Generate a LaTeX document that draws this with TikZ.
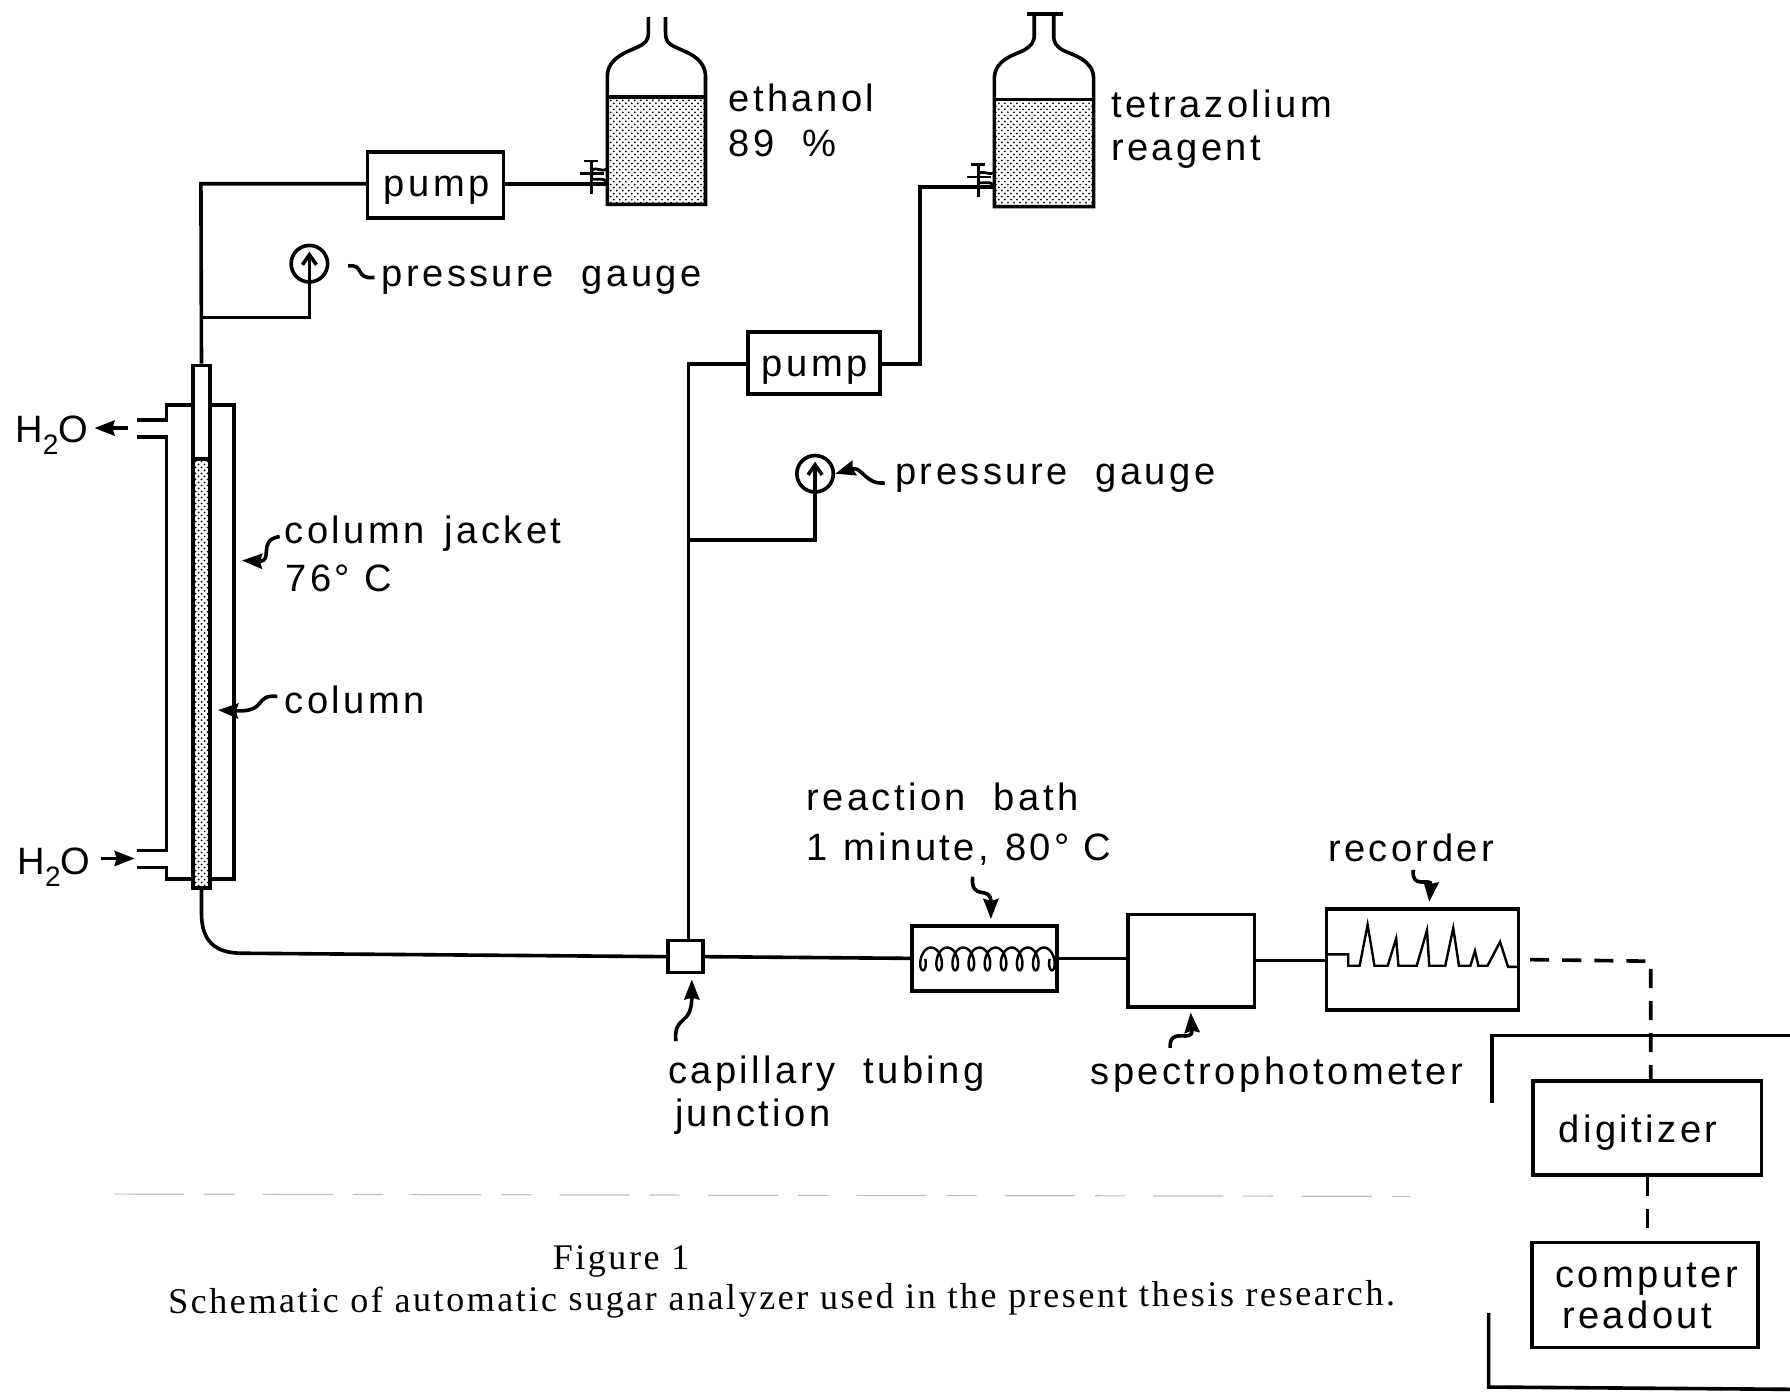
\documentclass[tikz,border=0pt]{standalone}
\usepackage{fontspec}
\usepackage{tikz}
\usetikzlibrary{arrows.meta,patterns}
\newfontfamily\letterfont[LetterSpace=9]{Liberation Sans}
\newfontfamily\captionfont[LetterSpace=7]{Liberation Serif}
\newcommand{\water}{H\raisebox{-6pt}{\fontsize{14}{14}\selectfont 2}O}
\newcommand{\wgap}{\hspace{14pt}}
\tikzset{
    pipe/.style={line width=1.8pt},
    devbox/.style={draw,line width=1.8pt,inner sep=0pt},
    gauge/.style={draw,circle,line width=1.8pt,minimum size=0.64cm,inner sep=0pt},
    lbl/.style={inner sep=0pt,anchor=base west,font=\letterfont\fontsize{19}{22}\selectfont},
    capt/.style={inner sep=0pt,font=\captionfont\fontsize{18}{20}\selectfont},
    lead/.style={line width=1.8pt,-{Stealth[length=10pt,width=7.5pt,inset=1pt]}},
    dashline/.style={line width=1.8pt,dash pattern=on 9.5pt off 6.5pt},
    liquid/.style={pattern=crosshatch dots},
    tap/.pic={
        \draw[line width=1.4pt] (-14,-22) -- (-14,7);
        \draw[line width=1.4pt] (-20,-22) -- (-8,-22);
        \draw[line width=1.4pt] (-24,-11) -- (-3,-11);
        \draw[line width=1.4pt] (-14,-14) .. controls (-8,-17) and (-6,-12) .. (0,-15);
        \draw[line width=1.4pt] (-14,-6) -- (-5,-6) .. controls (-2,-6) and (0,-3) .. (0,0);
    }
}
\begin{document}
\begin{tikzpicture}[x=0.02cm,y=-0.02cm]
    \useasboundingbox (0,0) rectangle (1568,1218.5);

    \fill[liquid] (532,85) rectangle (618,179);
    \draw[pipe] (532,85) -- (618,85);
    \draw[pipe] (568,15) -- (568,28) .. controls (568,36) and (565,38) .. (559,41) .. controls (551,45) and (532,50) .. (532,67) -- (532,179) -- (618,179) -- (618,67) .. controls (618,50) and (599,45) .. (591,41) .. controls (585,38) and (583,36) .. (583,28) -- (583,15);
    \pic at (532,163) {tap};

    \fill[liquid] (871,87) rectangle (958,181);
    \draw[pipe] (871,87) -- (958,87);
    \draw[pipe] (906,12) -- (906,30) .. controls (906,38) and (903,40) .. (897,44) .. controls (889,48) and (871,52) .. (871,69) -- (871,181) -- (958,181) -- (958,69) .. controls (958,52) and (939,48) .. (931,44) .. controls (925,40) and (923,38) .. (923,30) -- (923,12);
    \draw[pipe] (900,12) -- (931,12);
    \pic at (871,166) {tap};

    \node[devbox,minimum width=2.38cm,minimum height=1.16cm] (pumpa) at (381.5,162) {};
    \node[devbox,minimum width=2.32cm,minimum height=1.08cm] (pumpb) at (713,318) {};
    \node[gauge] (gaugea) at (271,231) {};
    \node[gauge] (gaugeb) at (714,415) {};
    \node[devbox,minimum width=0.3cm,minimum height=9.16cm] (column) at (176.5,549) {};
    \node[devbox,minimum width=0.62cm,minimum height=0.56cm] (junction) at (600.5,838) {};
    \node[devbox,minimum width=2.54cm,minimum height=1.14cm] (bath) at (862.5,839.5) {};
    \node[devbox,minimum width=2.22cm,minimum height=1.62cm] (spectro) at (1043.5,841.5) {};
    \node[devbox,minimum width=3.36cm,minimum height=1.78cm] (recorder) at (1246,840.5) {};
    \node[devbox,minimum width=4cm,minimum height=1.64cm] (digitizer) at (1443,988) {};
    \node[devbox,minimum width=3.96cm,minimum height=1.84cm] (readout) at (1441,1134.5) {};

    \fill[liquid] (169,402) rectangle (184,778);
    \draw[pipe] (169,402) -- (184,402);

    \draw[pipe] (120,368) -- (146,368) -- (146,355) -- (169,355);
    \draw[pipe] (184,355) -- (205,355) -- (205,770) -- (184,770);
    \draw[pipe] (120,383) -- (146,383) -- (146,745) -- (120,745);
    \draw[pipe] (120,760) -- (146,760) -- (146,770) -- (169,770);

    \coordinate (teea) at (176,278);
    \coordinate (teeb) at (603,473);
    \coordinate (tapa) at (532,161);
    \coordinate (tapb) at (871,164);
    \coordinate (risea) at (806,164);
    \coordinate (cornera) at (176,161);
    \coordinate (cornerb) at (603,319);
    \coordinate (bendtop) at (176.5,800);
    \coordinate (bendend) at (212,835);
    \draw[pipe] (column.north) -- (cornera) -- (pumpa.west |- cornera);
    \draw[pipe] (pumpa.east |- tapa) -- (tapa);
    \draw[pipe] (teea) -| (gaugea.south);
    \draw[pipe,-{Straight Barb[length=5pt,width=7pt]},shorten >=4pt] (gaugea.south) -- (gaugea.north);
    \draw[pipe] (column.south) -- (bendtop) .. controls (176.5,824) and (188,835) .. (bendend) -- (junction.west);
    \draw[pipe] (junction.north -| cornerb) -- (cornerb) -- (pumpb.west |- cornerb);
    \draw[pipe] (pumpb.east |- cornerb) -| (risea) -- (tapb);
    \draw[pipe] (teeb) -| (gaugeb.south);
    \draw[pipe,-{Straight Barb[length=5pt,width=7pt]},shorten >=4pt] (gaugeb.south) -- (gaugeb.north);
    \draw[pipe] (junction.east) -- (bath.west);
    \draw[pipe] (bath.east) -- (spectro.west |- bath.east);
    \draw[pipe] (spectro.east) -- (recorder.west |- spectro.east);

    \draw[line width=1.2pt] plot[domain=-90:2970,samples=260,smooth] ({805+0.0392*(\x+90)-5.5*sin(\x)},{840+10*cos(\x)});
    \draw[line width=1.2pt] (1162,836) -- (1181,836) -- (1181,846) -- (1191,846) -- (1198,810) -- (1204,846) -- (1215.6,846) -- (1223,822) -- (1225,846) -- (1241,846) -- (1250,815) -- (1252,846) -- (1266,846) -- (1273,813) -- (1278,846) -- (1288,846) -- (1292,833) -- (1295,846) -- (1303,846) -- (1314,825) -- (1321,847) -- (1330,847);

    \coordinate (dashcorner) at (1446,842);
    \draw[dashline,shorten <=5pt] (recorder.east) -- (dashcorner) -- (dashcorner |- digitizer.north);
    \draw[dashline] (digitizer.south) -- (digitizer.south |- readout.north);

    \draw[pipe] (1307,966) -- (1307,907) -- (1568,907);
    \draw[pipe] (1304,1150) -- (1304,1215) -- (1568,1217);

    \node[lbl] (lblpumpa) at (336,172) {pump};
    \node[lbl] (lblpumpb) at (667,330) {pump};
    \node[lbl] (lbldigitizer) at (1365,1001) {digitizer};
    \node[lbl] (lblcomputer) at (1362,1128) {computer};
    \node[lbl] (lblreadout) at (1368,1164) {readout};
    \node[lbl] (lblethanol) at (638,98) {ethanol};
    \node[lbl] (lblpercent) at (638,137) {89\wgap\%};
    \node[lbl] (lbltetra) at (973,103) {tetrazolium};
    \node[lbl] (lblreagent) at (973,141) {reagent};
    \node[lbl] (lblgaugea) at (334,251) {pressure\wgap gauge};
    \node[lbl] (lblgaugeb) at (784,424) {pressure\wgap gauge};
    \node[lbl] (lbljacket) at (249,476) {column\hspace{10pt}jacket};
    \node[lbl] (lbltemp) at (250,518) {76° C};
    \node[lbl] (lblcolumn) at (249,625) {column};
    \node[lbl] (lblwaterout) at (13,388) {\water};
    \node[lbl] (lblwaterin) at (15,766) {\water};
    \node[lbl] (lblbath) at (706,710) {reaction\wgap bath};
    \node[lbl] (lblminute) at (706,754) {1\hspace{8pt}minute,\hspace{8pt}80° C};
    \node[lbl] (lblrecorder) at (1163,755) {recorder};
    \node[lbl] (lblcapillary) at (585,949) {capillary\wgap tubing};
    \node[lbl] (lbljunction) at (591,987) {junction};
    \node[lbl] (lblspectro) at (955,950) {spectrophotometer};
    \node[capt] (lblfigure) at (544,1105) {Figure 1};
    \node[capt,anchor=west,rotate=0.4] (lblcaption) at (147,1143) {Schematic of automatic sugar analyzer used in the present thesis research.};

    \coordinate (endwaterout) at (112,375);
    \coordinate (endwaterin) at (118,752);
    \draw[lead,shorten >=3pt] (endwaterout) -- (lblwaterout.east |- endwaterout);
    \draw[lead,shorten <=5pt] (lblwaterin.east |- endwaterin) -- (endwaterin);

    \coordinate (startgaugea) at (305,233);
    \coordinate (endgaugea) at (328,243);
    \draw[pipe] (startgaugea) .. controls (320,231) and (310,245) .. (endgaugea);
    \coordinate (startgaugeb) at (775,423);
    \draw[lead] (startgaugeb) .. controls (758,425) and (755,408) .. (gaugeb.east);
    \coordinate (startjacket) at (245,470);
    \coordinate (endjacket) at (212,491);
    \draw[lead] (startjacket) .. controls (225,473) and (240,492) .. (endjacket);
    \coordinate (startcolumn) at (243,610);
    \coordinate (endcolumn) at (191,622);
    \draw[lead] (startcolumn) .. controls (222,608) and (235,624) .. (endcolumn);
    \coordinate (startbath) at (852,768);
    \coordinate (endbath) at (868,805);
    \draw[lead] (startbath) .. controls (850,790) and (868,775) .. (endbath);
    \coordinate (startrecorder) at (1238,762);
    \coordinate (endrecorder) at (1252,790);
    \draw[lead] (startrecorder) .. controls (1236,780) and (1254,768) .. (endrecorder);
    \coordinate (startspectro) at (1025,918);
    \coordinate (endspectro) at (1043,887);
    \draw[lead] (startspectro) .. controls (1024,898) and (1045,915) .. (endspectro);
    \coordinate (startjunction) at (592,912);
    \coordinate (endjunction) at (606,858);
    \draw[lead] (startjunction) .. controls (590,888) and (606,900) .. (endjunction);

    \draw[gray!50,line width=0.6pt,dash pattern=on 35pt off 10pt on 15pt off 14pt] (100,1046) -- (1235,1048);
\end{tikzpicture}
\end{document}
